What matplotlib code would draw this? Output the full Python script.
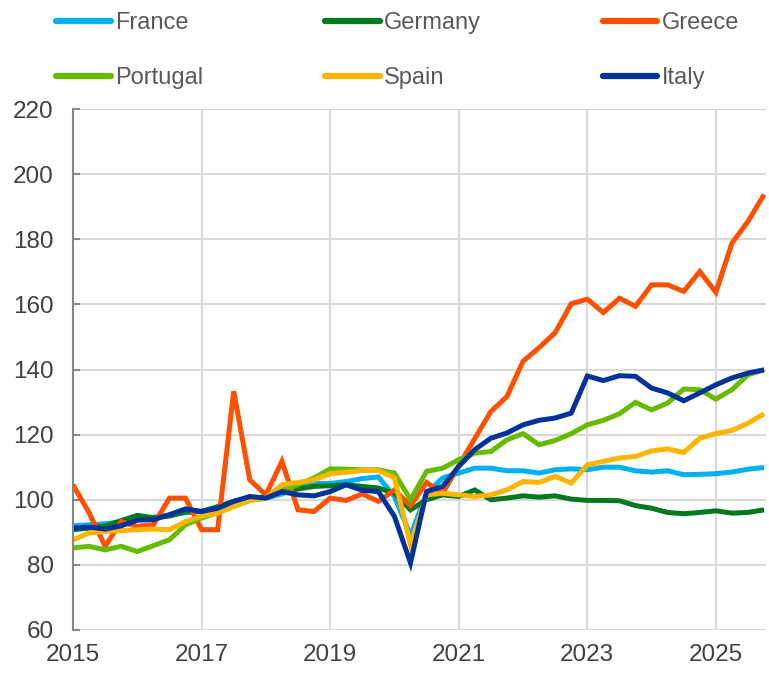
import numpy as np
import matplotlib
matplotlib.use("Agg")
import matplotlib.pyplot as plt
import matplotlib.lines as mlines

plt.rcParams['font.family'] = ['Liberation Sans', 'DejaVu Sans']

# quarterly index, 2015Q1 .. 2025Q4
quarters = 2015 + np.arange(44) * 0.25

france = [92, 92.3, 92.6, 93.2, 94, 94.6, 95.3, 96,
          96.5, 97.4, 99, 100.2, 100.5, 101.8, 103.6, 105,
          105, 105.6, 106.5, 107, 101, 89, 102, 106.7,
          108.2, 109.7, 109.7, 108.9, 108.9, 108.2, 109.2, 109.5,
          109.2, 110, 110, 108.9, 108.5, 108.9, 107.7, 107.8,
          108, 108.5, 109.4, 109.9]
germany = [90.8, 91.3, 92, 93.6, 95.2, 94.5, 95, 96.3,
           96.4, 97.9, 99.5, 100.2, 101, 102.5, 103.3, 104.1,
           104.3, 104.6, 104.1, 103.6, 102, 96.9, 100, 101.5,
           101, 103, 100, 100.5, 101.2, 100.8, 101.2, 100.2,
           99.8, 99.8, 99.7, 98.2, 97.4, 96.1, 95.7, 96.1,
           96.6, 95.9, 96.1, 96.9]
greece = [104.6, 96, 85.7, 93.3, 91.8, 92.3, 100.5, 100.5,
          90.8, 90.8, 133.3, 106.1, 101.5, 111.8, 96.9, 96.4,
          100.5, 99.8, 101.8, 99.5, 103, 98.2, 105.3, 102,
          110.5, 118.8, 127.1, 131.7, 142.5, 146.7, 151.3, 160.2,
          161.6, 157.5, 161.9, 159.4, 166, 166, 164, 170.1,
          163.7, 178.8, 185.5, 193.7]
portugal = [85.2, 85.7, 84.6, 85.7, 84.1, 85.9, 87.7, 92.3,
            94.4, 96, 98, 99.8, 100.5, 103, 104.6, 106.7,
            109.5, 109.4, 109.2, 109.2, 108.2, 100, 108.7, 109.7,
            112.3, 114.3, 114.8, 118.4, 120.3, 116.9, 118.2, 120.3,
            123, 124.4, 126.4, 129.9, 127.6, 129.7, 134, 133.8,
            130.9, 133.8, 138.4, 139.9]
spain = [87.7, 89.8, 90.3, 90.5, 90.8, 91, 90.8, 93.3,
         95, 95.9, 97.9, 99.8, 100.5, 104.6, 105.3, 106.1,
         108, 108.4, 109, 109, 106.7, 86.2, 101.5, 102,
         101.5, 101, 101.5, 103, 105.6, 105.3, 107.2, 105.1,
         110.7, 111.8, 112.8, 113.3, 115, 115.6, 114.5, 118.9,
         120.3, 121.3, 123.5, 126.4]
italy = [91.3, 91.6, 91, 92, 93.7, 93.9, 95.4, 97.2,
         96.4, 97.4, 99.5, 101, 100.5, 102.5, 101.5, 101.2,
         102.5, 104.6, 102.9, 102.5, 94.9, 80.6, 102.5, 104.1,
         110.2, 115.4, 118.9, 120.5, 123, 124.4, 125.1, 126.6,
         138, 136.6, 138.1, 137.9, 134.3, 132.8, 130.4, 132.8,
         135.3, 137.4, 138.9, 139.9]

labels = ['France', 'Germany', 'Greece', 'Portugal', 'Spain', 'Italy']
colors = ['#00B0F0', '#00781E', '#FF5000', '#66BB00', '#FFB400', '#00339A']
series = [france, germany, greece, portugal, spain, italy]

fig = plt.figure(figsize=(7.69, 6.76), dpi=100)
ax = fig.add_axes([73/769, 1-630/676, (766-73)/769, (630-109)/676])

for s, c, lab in zip(series, colors, labels):
    ax.plot(quarters, s, color=c, lw=3.6, label=lab,
            solid_joinstyle='miter', solid_capstyle='butt')

ax.set_xlim(2015, 2025.78)
ax.set_ylim(60, 220)
ax.set_xticks(np.arange(2015, 2026, 2))
ax.set_yticks(np.arange(60, 221, 20))
ax.grid(True, color='#d9d9d9', lw=1.5)
ax.set_axisbelow(True)
for sp in ['top', 'right', 'bottom']:
    ax.spines[sp].set_visible(False)
ax.spines['left'].set_color('#868686')
ax.spines['left'].set_linewidth(1.5)
ax.tick_params(axis='y', direction='in', length=5, width=1.5, color='#868686',
               labelsize=17.5, labelcolor='#404040', pad=14)
ax.tick_params(axis='x', length=0, labelsize=17.5, labelcolor='#404040', pad=10)

# legend: rows France/Germany/Greece and Portugal/Spain/Italy
order = [0, 3, 1, 4, 2, 5]
handles = [mlines.Line2D([], [], color=colors[i], lw=4.5, solid_capstyle='round') for i in order]
leg = fig.legend(handles, [labels[i] for i in order], ncol=3, loc='upper left',
                 bbox_to_anchor=(47/769, 1 - 3/676), frameon=False,
                 fontsize=17, handlelength=2.3, handletextpad=0.2,
                 columnspacing=5.15, labelspacing=1.38, borderaxespad=0.0)
for t in leg.get_texts():
    t.set_color('#595959')

fig.savefig('out.png', dpi=100)
